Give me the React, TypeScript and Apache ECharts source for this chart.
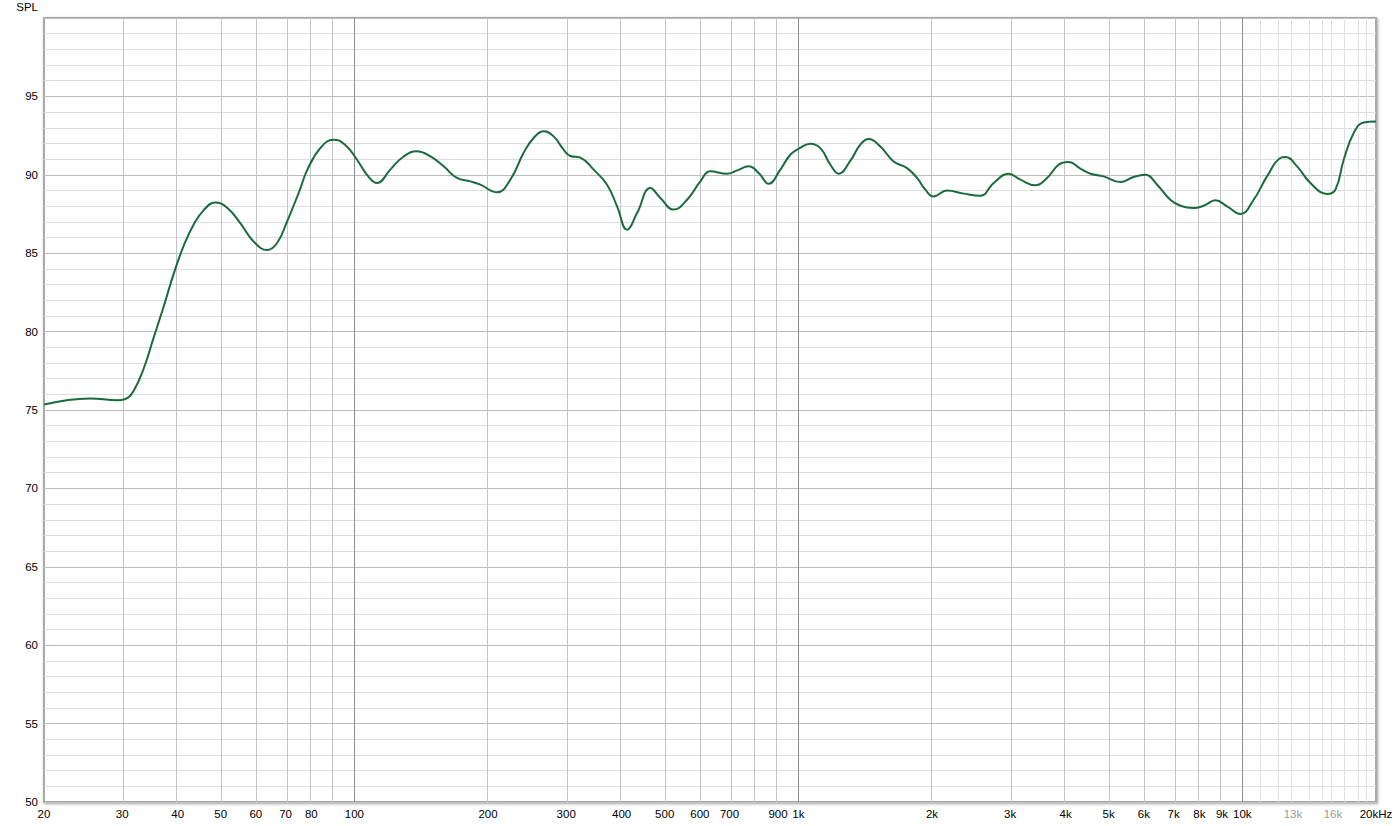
import React, { useEffect, useRef } from "react";
import * as echarts from "echarts";

// Frequency response (Hz) and SPL (dB)
const freqs = [
  20, 25.4, 29.2, 30.5, 31.8, 33.5, 35.3, 37.2, 39.2, 41.3, 43.5, 45.8, 48.6, 51.7, 55.4,
  59.3, 63.6, 67.0, 70.5, 75.3, 78.3, 83.8, 89.8, 95.4, 101.4, 106.8, 112.5, 120.5, 129.1,
  138.4, 148.4, 158.9, 170.3, 182.5, 192.2, 209.6, 224.6, 240.6, 253.4, 267.0, 281.1, 296.0,
  306.6, 322.8, 345.9, 370.8, 390.6, 411.4, 433.3, 464.2, 488.9, 523.7, 561.5, 601.6, 633.6,
  690.8, 727.8, 773.0, 814.2, 857.4, 911.0, 959.4, 1010, 1064, 1121, 1181, 1233, 1310, 1379,
  1440, 1530, 1639, 1757, 1851, 1932, 2017, 2162, 2357, 2570, 2754, 2976, 3162, 3418, 3632,
  3857, 4063, 4317, 4548, 4871, 5312, 5691, 6045, 6427, 6882, 7251, 7768, 8183, 8695, 9238,
  9897, 10605, 11364, 12179, 12500, 13283, 14234, 15518, 16203, 16916, 17815, 18762, 20000,
];
const spl = [
  75.35, 75.74, 75.62, 75.7, 76.2, 77.6, 79.6, 81.6, 83.7, 85.5, 86.85, 87.75, 88.24, 87.9,
  86.9, 85.75, 85.2, 85.65, 87.0, 89.0, 90.3, 91.7, 92.24, 91.9, 90.96, 90.0, 89.48,
  90.33, 91.17, 91.5, 91.17, 90.54, 89.8, 89.58, 89.37, 88.88, 89.69, 91.4, 92.35, 92.77,
  92.45, 91.6, 91.2, 91.1, 90.33, 89.37, 87.99, 86.5, 87.56, 89.16, 88.52, 87.78, 88.41, 89.58,
  90.22, 90.07, 90.28, 90.54, 90.11, 89.43, 90.33, 91.28, 91.72, 91.98, 91.7, 90.64, 90.07,
  90.9, 91.92, 92.28, 91.81, 90.85, 90.43, 89.8, 89.05, 88.62, 89.0, 88.8, 88.67, 89.48, 90.07,
  89.69, 89.33, 89.8, 90.64, 90.81, 90.4, 90.07, 89.9, 89.54, 89.86, 90.0, 89.37, 88.41, 88.03,
  87.88, 88.03, 88.37, 87.99, 87.5, 88.41, 89.9, 91.07, 91.13, 90.54, 89.48, 88.78, 89.05,
  90.96, 92.67, 93.34, 93.4,
];

// Axis labels and grid lines
const labelFreqs = [
  20, 30, 40, 50, 60, 70, 80, 100, 200, 300, 400, 500, 600, 700, 900, 1000, 2000, 3000, 4000,
  5000, 6000, 7000, 8000, 9000, 10000, 13000, 16000, 20000,
];
const grayLabelFreqs = [13000, 16000];
const decadeLines = [100, 1000, 10000];
const gridLines = [
  30, 40, 50, 60, 70, 80, 90, 200, 300, 400, 500, 600, 700, 800, 900, 2000, 3000, 4000, 5000,
  6000, 7000, 8000, 9000,
];
const fineLines = [11000, 12000, 13000, 14000, 15000, 16000, 17000, 18000, 19000];

const fmtFreq = (f: number) => {
  if (f >= 20000) return f / 1000 + "kHz";
  if (f >= 1000) return f / 1000 + "k";
  return String(f);
};

export default function App() {
  const ref = useRef<HTMLDivElement>(null);
  useEffect(() => {
    if (!ref.current) return;
    const chart = echarts.init(ref.current, null, { renderer: "svg" });
    const lg = (f: number) => Math.log10(f);
    const ml = (arr: number[], color: string) =>
      arr.map((f) => ({ xAxis: lg(f), lineStyle: { color, width: 1, type: "solid" } }));
    chart.setOption({
      animation: false,
      backgroundColor: "#ffffff",
      textStyle: { fontFamily: "Liberation Sans, Arial, sans-serif" },
      grid: {
        left: 44,
        top: 18,
        width: 1332,
        height: 784,
        show: true,
        backgroundColor: "#ffffff",
        borderColor: "#a9a9a9",
        borderWidth: 2,
        shadowColor: "rgba(0,0,0,0.35)",
        shadowBlur: 3,
        shadowOffsetX: 1,
        shadowOffsetY: 1,
      },
      xAxis: {
        type: "value",
        min: lg(20),
        max: lg(20000),
        axisLine: { show: false },
        axisTick: { show: false },
        splitLine: { show: false },
        axisLabel: {
          customValues: labelFreqs.map(lg),
          margin: 6,
          fontSize: 11.5,
          color: "#000",
          formatter: (v: number) => {
            const f = Math.round(Math.pow(10, v));
            const t = fmtFreq(f);
            return grayLabelFreqs.includes(f) ? "{g|" + t + "}" : t;
          },
          rich: { g: { color: "#9a9a9a", fontSize: 11.5 } },
        },
      },
      yAxis: {
        type: "value",
        min: 50,
        max: 100,
        interval: 5,
        name: "SPL",
        nameLocation: "end",
        nameGap: 5,
        nameTextStyle: { align: "right", fontSize: 11.5, color: "#000", padding: [0, 6, 0, 0] },
        axisLine: { show: false },
        axisTick: { show: false },
        axisLabel: {
          fontSize: 11.5,
          color: "#000",
          margin: 6,
          formatter: (v: number) => (v === 100 ? "" : String(v)),
        },
        splitLine: { show: true, lineStyle: { color: "#bdbdbd", width: 1 } },
        minorTick: { show: false, splitNumber: 5 },
        minorSplitLine: { show: true, lineStyle: { color: "#dedede", width: 1 } },
      },
      series: [
        {
          type: "line",
          data: [],
          z: 1,
          silent: true,
          markLine: {
            silent: true,
            symbol: "none",
            label: { show: false },
            animation: false,
            data: [
              ...ml(fineLines, "#e0e0e0"),
              ...ml(gridLines, "#c4c4c4"),
              ...ml(decadeLines, "#8c8c8c"),
            ],
          },
        },
        {
          type: "line",
          z: 5,
          data: freqs.map((f, i) => [lg(f), spl[i]]),
          smooth: 0.45,
          showSymbol: false,
          symbol: "none",
          lineStyle: { color: "#1a6a40", width: 2 },
        },
      ],
    });
    return () => chart.dispose();
  }, []);
  return (
    <div
      ref={ref}
      style={{ position: "fixed", left: 0, top: 0, width: 1398, height: 826, background: "#fff" }}
    />
  );
}
